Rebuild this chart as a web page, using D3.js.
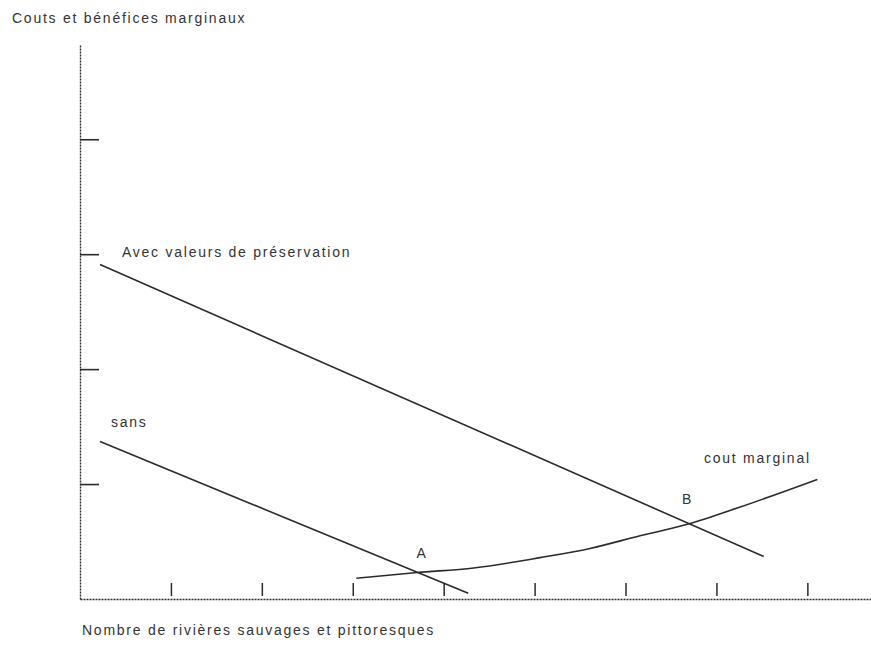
<!DOCTYPE html>
<html>
<head>
<meta charset="utf-8">
<script src="https://cdn.jsdelivr.net/npm/d3@7"></script>
<style>
  html, body { margin: 0; padding: 0; background: #fff; }
  svg text { font-family: "Liberation Sans", Arial, sans-serif; font-size: 14px; letter-spacing: 1.75px; fill: #333; }
</style>
</head>
<body>
<svg id="chart" width="871" height="645"></svg>
<script>
// ---- data ----
const xTicks = [1, 2, 3, 4, 5, 6, 7, 8];
const yTicks = [1, 2, 3, 4];

const avecX = [0.22, 7.52];
const avecY = [2.91, 0.37];

const sansX = [0.22, 4.27];
const sansY = [1.37, 0.05];

const coutX = [3.04, 3.71, 4.33, 5.06, 5.61, 6.16, 6.68, 7.26, 8.11];
const coutY = [0.18, 0.23, 0.27, 0.36, 0.44, 0.55, 0.65, 0.80, 1.04];

const titleY = "Couts et bénéfices marginaux";
const titleX = "Nombre de rivières sauvages et pittoresques";
const labelAvec = "Avec valeurs de préservation";
const labelSans = "sans";
const labelCout = "cout marginal";
const pointA = { name: "A", x: 3.70, y: 0.36 };
const pointB = { name: "B", x: 6.62, y: 0.83 };

// ---- scales ----
const svg = d3.select("#chart");
const x = d3.scaleLinear().domain([0, 8.7]).range([80, 871]);
const y = d3.scaleLinear().domain([0, 4.82]).range([599, 45]);

const ink = "#2b2b2b";

// x axis
const gx = svg.append("g").attr("transform", `translate(0,${y(0)})`)
  .call(d3.axisBottom(x).tickValues(xTicks).tickSizeInner(-16).tickSizeOuter(0).tickFormat(""));
gx.select(".domain").attr("stroke", ink).attr("stroke-width", 1.6).attr("stroke-dasharray", "2,1");
gx.selectAll(".tick line").attr("stroke", ink).attr("stroke-width", 1.5).attr("y1", -3);

// y axis
const gy = svg.append("g").attr("transform", `translate(${x(0)},0)`)
  .call(d3.axisRight(y).tickValues(yTicks).tickSizeInner(19).tickSizeOuter(0).tickFormat(""));
gy.select(".domain").attr("stroke", ink).attr("stroke-width", 1.4).attr("stroke-dasharray", "2,1");
gy.selectAll(".tick line").attr("stroke", ink).attr("stroke-width", 1.6);

// lines
const line = d3.line().x(d => x(d[0])).y(d => y(d[1]));
const curve = d3.line().x(d => x(d[0])).y(d => y(d[1])).curve(d3.curveMonotoneX);

function draw(xs, ys, gen) {
  svg.append("path").datum(xs.map((v, i) => [v, ys[i]]))
    .attr("d", gen).attr("fill", "none")
    .attr("stroke", ink).attr("stroke-width", 1.6);
}
draw(avecX, avecY, line);
draw(sansX, sansY, line);
draw(coutX, coutY, curve);

// texts
svg.append("text").attr("x", 12).attr("y", 23).text(titleY);
svg.append("text").attr("x", 82).attr("y", 635).text(titleX);
svg.append("text").attr("x", 122).attr("y", 257).text(labelAvec);
svg.append("text").attr("x", 111).attr("y", 427).text(labelSans);
svg.append("text").attr("x", 704).attr("y", 463).text(labelCout);
svg.append("text").attr("x", x(pointA.x)).attr("y", y(pointA.y)).text(pointA.name);
svg.append("text").attr("x", x(pointB.x)).attr("y", y(pointB.y)).text(pointB.name);
</script>
</body>
</html>
